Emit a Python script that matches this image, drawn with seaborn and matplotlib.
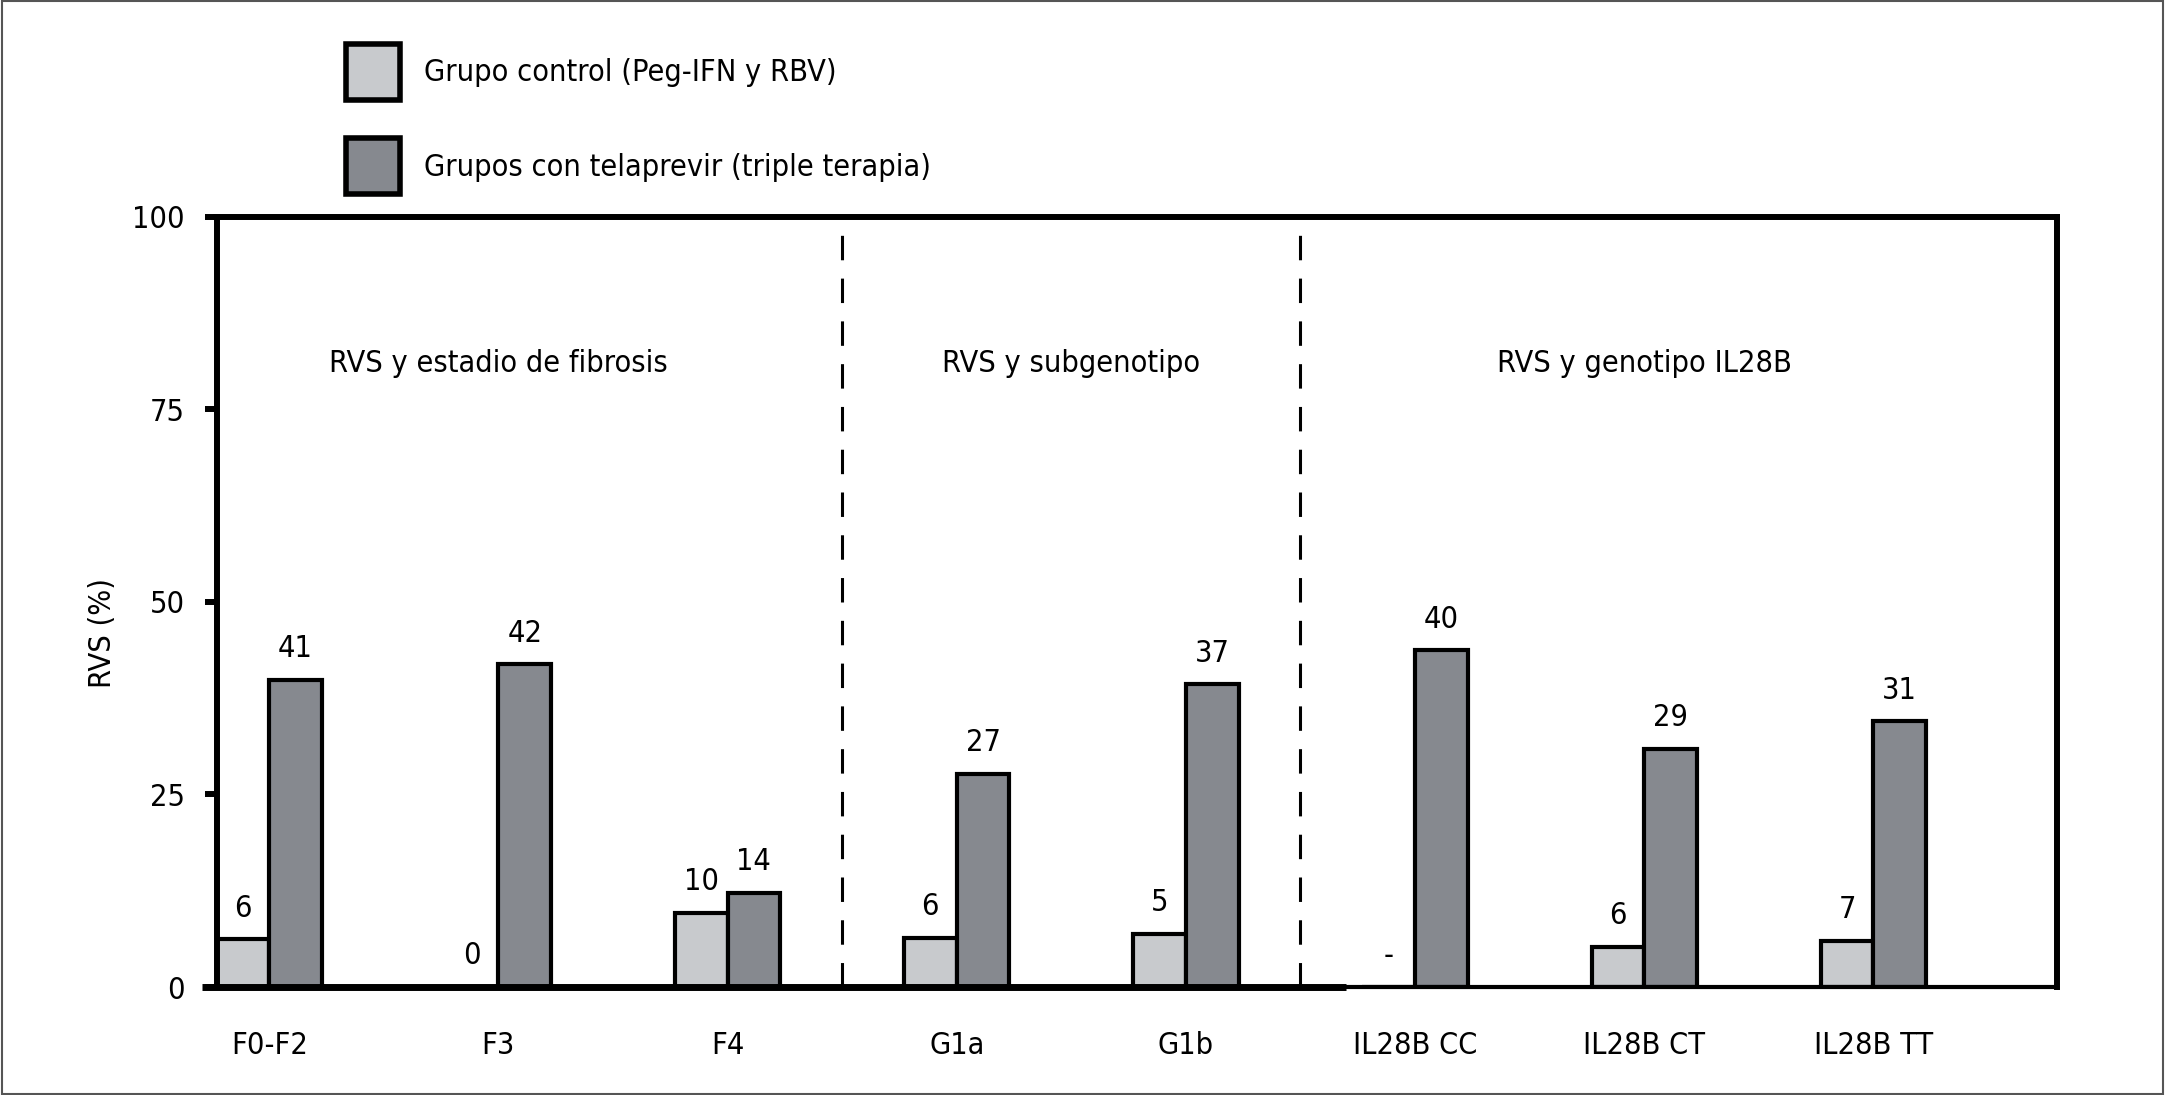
import numpy as np
import pandas as pd
import seaborn as sns
import matplotlib.pyplot as plt
from matplotlib import font_manager
from matplotlib.patches import Rectangle

# Data
categories = ['F0-F2', 'F3', 'F4', 'G1a', 'G1b', 'IL28B CC', 'IL28B CT', 'IL28B TT']
series = ['Grupo control (Peg-IFN y RBV)', 'Grupos con telaprevir (triple terapia)']
control_vals = [6.2, 0, 9.6, 6.4, 6.9, 0, 5.2, 6.0]
telaprevir_vals = [39.9, 41.9, 12.2, 27.7, 39.3, 43.7, 30.9, 34.5]
control_labels = ['6', '0', '10', '6', '5', '-', '6', '7']
telaprevir_labels = ['41', '42', '14', '27', '37', '40', '29', '31']
panel_titles = ['RVS y estadio de fibrosis', 'RVS y subgenotipo', 'RVS y genotipo IL28B']
panel_members = [['F0-F2', 'F3', 'F4'], ['G1a', 'G1b'], ['IL28B CC', 'IL28B CT', 'IL28B TT']]

df = pd.DataFrame({
    'grupo': categories * 2,
    'serie': [series[0]] * len(categories) + [series[1]] * len(categories),
    'rvs': control_vals + telaprevir_vals,
})

sns.set_style('white')

# narrow sans if there is one, the original uses a condensed Helvetica
fonts = {(f.name, f.stretch) for f in font_manager.fontManager.ttflist}
if any(n == 'Liberation Sans Narrow' for n, _ in fonts):
    plt.rcParams['font.family'] = ['Liberation Sans Narrow', 'DejaVu Sans']
else:
    plt.rcParams['font.family'] = ['DejaVu Sans']
    if ('DejaVu Sans', 'condensed') in fonts or ('DejaVu Sans', 'semi-condensed') in fonts:
        plt.rcParams['font.stretch'] = 'condensed'
plt.rcParams['text.color'] = 'black'
plt.rcParams['xtick.color'] = 'black'
plt.rcParams['ytick.color'] = 'black'
plt.rcParams['axes.labelcolor'] = 'black'

fs = 22

fig = plt.figure(figsize=(21.65, 10.95), dpi=100)
ax = fig.add_axes([0.100, 0.0986, 0.850, 0.7034])

palette = {series[0]: '#c8cacd', series[1]: '#86898f'}
sns.barplot(data=df, x='grupo', y='rvs', hue='serie', order=categories,
            hue_order=series, palette=palette, width=0.46, saturation=1,
            edgecolor='black', linewidth=3, ax=ax, legend=False, errorbar=None)

for cont, labs in zip(ax.containers, [control_labels, telaprevir_labels]):
    ax.bar_label(cont, labels=labs, padding=12, fontsize=fs)

ax.set_xlim(-0.23, 7.8)
ax.set_ylim(0, 100)
ax.set_yticks([0, 25, 50, 75, 100])
ax.tick_params(axis='y', direction='out', length=9, width=4.3, pad=14,
               labelsize=fs, left=True)
ax.tick_params(axis='x', length=0, pad=32, labelsize=fs)
ax.set_xlabel('')
ax.set_ylabel('RVS (%)', fontsize=fs)
ax.yaxis.set_label_coords(-0.054, 0.46)

for s in ['left', 'top', 'right']:
    ax.spines[s].set_linewidth(4.3)
    ax.spines[s].set_color('black')
ax.spines['bottom'].set_linewidth(3)
ax.spines['bottom'].set_color('black')
ax.axhline(0, xmin=-0.008, xmax=0.614, color='black', lw=5, clip_on=False,
           solid_capstyle='butt', zorder=5)

# group separators and panel titles
pos = {c: i for i, c in enumerate(categories)}
for members in panel_members[:-1]:
    ax.axvline(pos[members[-1]] + 0.5, color='black', lw=2.2,
               linestyle=(0, (8, 6)), zorder=1)
for title, members in zip(panel_titles, panel_members):
    xc = np.mean([pos[m] for m in members])
    ax.text(xc, 81, title, ha='center', va='center', fontsize=fs)

handles = [Rectangle((0, 0), 1, 1, facecolor=palette[s], edgecolor='black', lw=4)
           for s in series]
fig.legend(handles, series, loc='upper left', bbox_to_anchor=(0.160, 0.960),
           frameon=False, fontsize=fs, handlelength=1.75, handleheight=2.45,
           handletextpad=0.8, labelspacing=1.25, borderpad=0, borderaxespad=0)

fig.patches.append(Rectangle((0.001, 0.001), 0.998, 0.998, transform=fig.transFigure,
                             fill=False, edgecolor='#555555', lw=1.5))

fig.savefig('out.png', dpi=100)
